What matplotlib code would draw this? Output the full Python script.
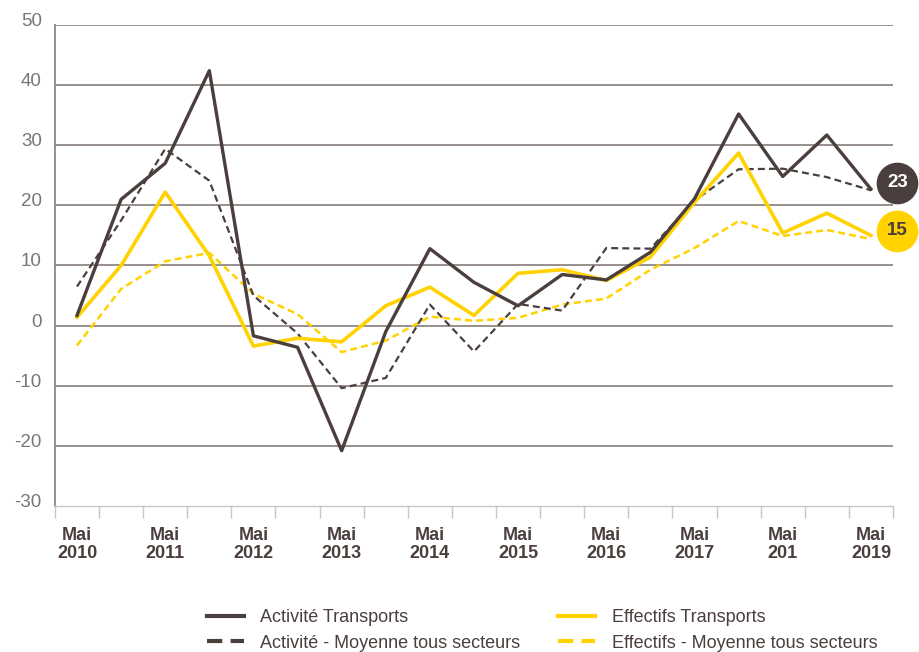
import matplotlib
matplotlib.use("Agg")
import matplotlib.pyplot as plt
import matplotlib.transforms as mtransforms
from matplotlib.lines import Line2D
import numpy as np

plt.rcParams['font.family'] = ['Liberation Sans', 'DejaVu Sans']
plt.rcParams['lines.scale_dashes'] = False
plt.rcParams['axes.unicode_minus'] = False

DARK = '#4a3f3c'
YELLOW = '#ffd200'
GRID = '#857d7b'

# half-year points, Mai 2010 .. Mai 2019
x_labels = ['Mai\n2010', '', 'Mai\n2011', '', 'Mai\n2012', '', 'Mai\n2013', '',
            'Mai\n2014', '', 'Mai\n2015', '', 'Mai\n2016', '', 'Mai\n2017', '',
            'Mai\n201', '', 'Mai\n2019']

activite_transports = [1.7, 21.0, 27.0, 42.4, -1.7, -3.6, -20.8, -1.0, 12.8, 7.2,
                       3.3, 8.5, 7.6, 12.2, 21.1, 35.2, 24.8, 31.7, 22.7]
activite_moyenne = [6.5, 17.5, 29.4, 24.1, 5.0, -1.3, -10.4, -8.7, 3.5, -4.3,
                    3.6, 2.5, 12.9, 12.8, 20.8, 26.0, 26.1, 24.7, 22.5]
effectifs_transports = [1.4, 10.0, 22.2, 11.6, -3.4, -2.1, -2.7, 3.3, 6.4, 1.7,
                        8.7, 9.3, 7.5, 11.4, 20.5, 28.7, 15.4, 18.7, 15.0]
effectifs_moyenne = [-3.3, 6.1, 10.7, 12.1, 5.3, 1.9, -4.4, -2.5, 1.5, 0.8,
                     1.3, 3.5, 4.5, 9.3, 12.9, 17.4, 14.9, 15.9, 14.4]

badge_labels = ['23', '15']

x = np.arange(len(x_labels))

fig = plt.figure(figsize=(9.19, 6.52), dpi=100)
ax = fig.add_axes([0.0598, 0.2239, 0.9119, 0.7378])

ax.set_xlim(-0.5, len(x) - 0.5)
ax.set_ylim(-30, 50)
ax.set_yticks(np.arange(-30, 51, 10))
for v in range(-20, 51, 10):
    ax.axhline(v, color=GRID, lw=1.2, zorder=1)

ax.plot(x, effectifs_moyenne, color=YELLOW, lw=1.8, dashes=(5, 3), zorder=3)
ax.plot(x, activite_moyenne, color=DARK, lw=1.6, dashes=(5, 3), zorder=3)
ax.plot(x, effectifs_transports, color=YELLOW, lw=2.6, zorder=4)
ax.plot(x, activite_transports, color=DARK, lw=2.4, zorder=5)

# end-of-series badges
xb = len(x) - 1 + 0.6
ax.scatter([xb], [activite_transports[-1] + 1.1], s=900, color=DARK,
           clip_on=False, zorder=6, linewidths=0)
ax.text(xb, activite_transports[-1] + 1.1, badge_labels[0], color='white',
        fontsize=13.5, fontweight='bold', ha='center', va='center', zorder=7)
ax.scatter([xb], [effectifs_transports[-1] + 0.8], s=900, color=YELLOW,
           clip_on=False, zorder=6, linewidths=0)
ax.text(xb, effectifs_transports[-1] + 0.8, badge_labels[1], color=DARK,
        fontsize=13.5, fontweight='bold', ha='center', va='center', zorder=7)

for side in ['top', 'right']:
    ax.spines[side].set_visible(False)
ax.spines['left'].set_color(GRID)
ax.spines['left'].set_linewidth(1.2)
ax.spines['bottom'].set_color('#cbc6c5')
ax.spines['bottom'].set_linewidth(1.0)

ax.tick_params(axis='y', length=0, pad=9.5, labelsize=13.5, labelcolor='#7d7573')
offset = mtransforms.ScaledTranslation(0, 4 / 72, fig.dpi_scale_trans)
for lab in ax.get_yticklabels():
    lab.set_transform(lab.get_transform() + offset)

ax.set_xticks(x)
ax.set_xticklabels(x_labels, fontsize=13, fontweight='bold', color=DARK,
                   linespacing=1.05)
ax.set_xticks(np.arange(-0.5, len(x), 1), minor=True)
ax.tick_params(axis='x', which='major', length=0, pad=15)
ax.tick_params(axis='x', which='minor', length=8.6, width=1.0,
               color='#cbc6c5', direction='out')

handles = [
    Line2D([], [], color=DARK, lw=3),
    Line2D([], [], color=DARK, lw=3, dashes=(11, 6)),
    Line2D([], [], color=YELLOW, lw=3),
    Line2D([], [], color=YELLOW, lw=3, dashes=(11, 6)),
]
labels = ['Activité Transports', 'Activité - Moyenne tous secteurs',
          'Effectifs Transports', 'Effectifs - Moyenne tous secteurs']
leg = fig.legend(handles, labels, ncol=2, frameon=False, fontsize=13,
                 loc='center', bbox_to_anchor=(0.59, 0.033),
                 handlelength=2.05, handletextpad=0.9, columnspacing=2.1,
                 labelspacing=0.45)
for t in leg.get_texts():
    t.set_color(DARK)

fig.savefig('out.png', dpi=100)
